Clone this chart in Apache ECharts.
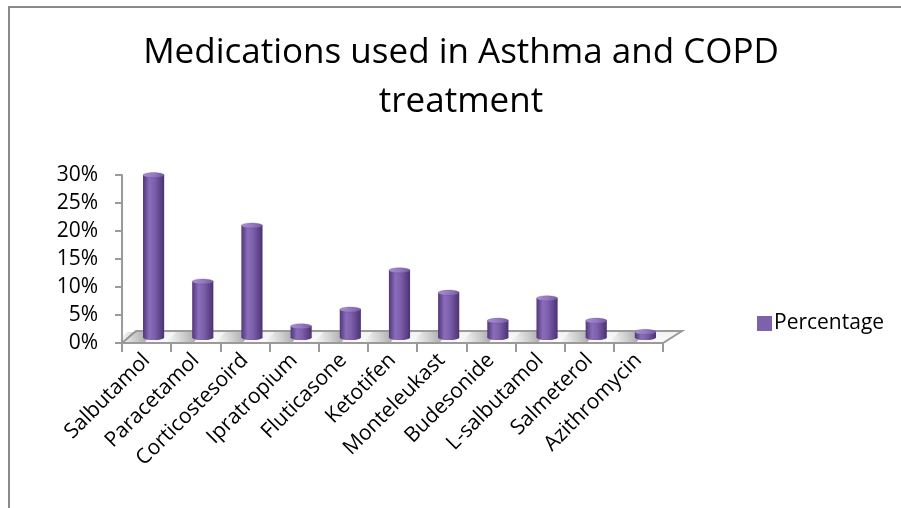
<!DOCTYPE html>
<html>
<head>
<meta charset="utf-8">
<title>Medications used in Asthma and COPD treatment</title>
<script src="https://cdn.jsdelivr.net/npm/echarts@6/dist/echarts.min.js"></script>
<style>
  html, body { margin: 0; padding: 0; background: #ffffff; }
  #chart { width: 901px; height: 508px; }
</style>
</head>
<body>
<div id="chart"></div>
<script>
// Chart data
const categories = ['Salbutamol', 'Paracetamol', 'Corticostesoird', 'Ipratropium', 'Fluticasone',
  'Ketotifen', 'Monteleukast', 'Budesonide', 'L-salbutamol', 'Salmeterol', 'Azithromycin'];
const percentage = [0.29, 0.10, 0.20, 0.02, 0.05, 0.12, 0.08, 0.03, 0.07, 0.03, 0.01];
const seriesName = 'Percentage';
const titleText = 'Medications used in Asthma and COPD\ntreatment';

const FONT = '"Open Sans", Lato, sans-serif';

// Oblique depth of the 3D floor (pixels)
const DEPTH_DY = -12;
const DEPTH_DX_LEFT = 14;
const DEPTH_DX_RIGHT = 19;
// Cylinders stand half way back on the floor
const BAR_DX = 7;
const BAR_DY = -5.5;

const bodyGradient = () => new echarts.graphic.LinearGradient(0, 0, 1, 0, [
  { offset: 0, color: '#4f3679' },
  { offset: 0.3, color: '#8a6dbb' },
  { offset: 0.55, color: '#7d5fab' },
  { offset: 1, color: '#4a3272' }
]);
const capGradient = () => new echarts.graphic.LinearGradient(0, 0, 1, 1, [
  { offset: 0, color: '#a891d0' },
  { offset: 0.5, color: '#937ac2' },
  { offset: 1, color: '#7256a2' }
]);

// 3D floor drawn as a parallelogram under the plot area
function renderFloor(params, api) {
  const cs = params.coordSys;
  const x0 = cs.x, x1 = cs.x + cs.width, y0 = cs.y + cs.height;
  return {
    type: 'polygon',
    shape: { points: [[x0, y0], [x1, y0], [x1 + DEPTH_DX_RIGHT, y0 + DEPTH_DY], [x0 + DEPTH_DX_LEFT, y0 + DEPTH_DY]] },
    style: {
      fill: new echarts.graphic.LinearGradient(0, 0, 0, 1, [
        { offset: 0, color: '#f2f2f2' },
        { offset: 1, color: '#fbfbfb' }
      ]),
      stroke: '#9a9a9a',
      lineWidth: 2
    }
  };
}

// Cylinder for each category value
function renderCylinder(params, api) {
  const idx = api.value(0);
  const val = api.value(1);
  const base = api.coord([idx, 0]);
  const top = api.coord([idx, val]);
  const band = api.size([1, 0])[0];
  const w = band * 0.43;
  const rx = w / 2, ry = 2.6;
  const cx = base[0] + BAR_DX;
  const yb = base[1] + BAR_DY;
  const yt = top[1] + BAR_DY;
  const floorFront = base[1];
  const floorBack = base[1] + DEPTH_DY;
  const sx = cx - rx;
  return {
    type: 'group',
    children: [
      // soft shadow cast on the floor to the left of the cylinder
      {
        type: 'polygon',
        shape: { points: [[sx - 26, floorFront - 1], [sx + 2, floorFront - 1], [sx + 10, floorBack + 1], [sx - 16, floorBack + 1]] },
        style: {
          fill: new echarts.graphic.LinearGradient(0, 0, 1, 0, [
            { offset: 0, color: 'rgba(150,150,150,0)' },
            { offset: 0.7, color: 'rgba(120,120,120,0.5)' },
            { offset: 1, color: 'rgba(100,100,100,0.65)' }
          ])
        }
      },
      { type: 'ellipse', shape: { cx: cx, cy: yb, rx: rx, ry: ry }, style: { fill: bodyGradient() } },
      { type: 'rect', shape: { x: sx, y: yt, width: w, height: Math.max(0, yb - yt) }, style: { fill: bodyGradient() } },
      { type: 'ellipse', shape: { cx: cx, cy: yt, rx: rx, ry: ry }, style: { fill: capGradient(), stroke: 'rgba(70,45,110,0.35)', lineWidth: 0.6 } }
    ]
  };
}

const chart = echarts.init(document.getElementById('chart'), null, { renderer: 'canvas' });

chart.setOption({
  animation: false,
  backgroundColor: '#ffffff',
  graphic: [{
    type: 'rect',
    shape: { x: 9, y: 7, width: 920, height: 540 },
    style: { fill: 'none', stroke: '#8a8a8a', lineWidth: 2 },
    silent: true
  }],
  title: {
    text: titleText,
    left: 456,
    top: 24,
    textAlign: 'center',
    textStyle: { fontFamily: FONT, fontSize: 35, fontWeight: 'normal', color: '#000000', lineHeight: 49 }
  },
  legend: {
    data: [seriesName],
    left: 752,
    top: 308,
    icon: 'rect',
    itemWidth: 15,
    itemHeight: 15,
    itemGap: 4,
    textStyle: { fontFamily: FONT, fontSize: 21, color: '#000000', padding: [0, 0, 0, -3] }
  },
  grid: { left: 122, top: 175, width: 541, height: 168 },
  xAxis: {
    type: 'category',
    data: categories,
    boundaryGap: true,
    axisLine: { show: false },
    axisTick: { show: true, length: 9, lineStyle: { color: '#9a9a9a', width: 2 } },
    axisLabel: {
      rotate: 45,
      interval: 0,
      margin: 14,
      fontFamily: FONT,
      fontSize: 21,
      color: '#000000'
    },
    splitLine: { show: false }
  },
  yAxis: {
    type: 'value',
    min: 0,
    max: 0.3,
    interval: 0.05,
    axisLine: { show: true, lineStyle: { color: '#9a9a9a', width: 2 } },
    axisTick: { show: true, length: 7, lineStyle: { color: '#9a9a9a', width: 2 } },
    axisLabel: {
      margin: 24,
      fontFamily: FONT,
      fontSize: 21,
      color: '#000000',
      formatter: v => Math.round(v * 100) + '%'
    },
    splitLine: { show: false }
  },
  series: [
    {
      type: 'custom',
      name: '__floor',
      renderItem: renderFloor,
      data: [[0, 0]],
      z: 1,
      silent: true,
      tooltip: { show: false }
    },
    {
      type: 'custom',
      name: seriesName,
      renderItem: renderCylinder,
      itemStyle: { color: '#7e61ad' },
      encode: { x: 0, y: 1 },
      data: percentage.map((v, i) => [i, v]),
      z: 3
    }
  ]
});
</script>
</body>
</html>
